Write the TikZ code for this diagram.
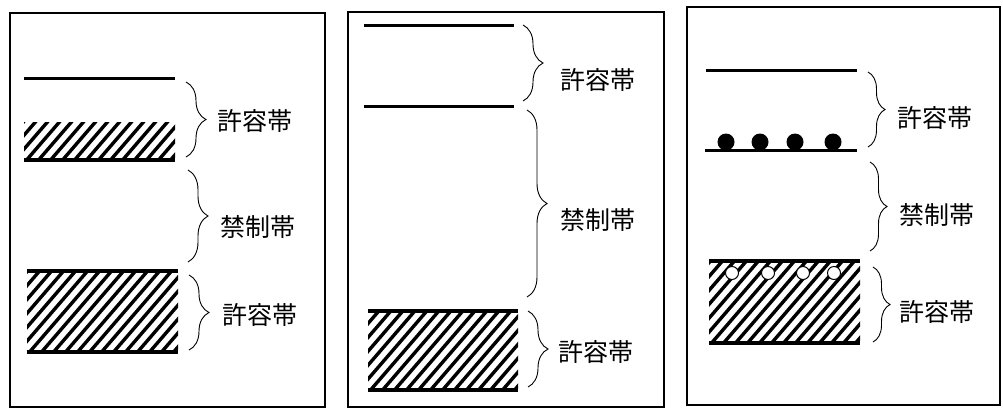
\documentclass[tikz,border=0pt]{standalone}
\usepackage{fontspec}
\newfontfamily\jpfont{Noto Sans CJK JP}
\usetikzlibrary{decorations.pathreplacing}
\newcommand{\hatcharea}[4]{%
  \begin{scope}
    \clip (#1,#2) rectangle (#3,#4);
    \foreach \k in {-10,...,16} \draw[hatchline] ({#1+\k*12},#4+3) -- ++(95,-110);
  \end{scope}}
\begin{document}
\begin{tikzpicture}[x=1pt,y=-1pt,
  frame/.style={draw=black,line width=1.5pt},
  level/.style={line width=3pt},
  edge/.style={line width=3.6pt},
  hatchline/.style={line width=3.4pt},
  bracket/.style={decorate,decoration={brace,amplitude=#1,aspect=0.5},line width=0.9pt},
  bracket/.default=20pt,
  lab/.style={anchor=west,inner sep=0pt,font=\jpfont\fontsize{25}{28}\selectfont},
  hole/.style={circle,draw=black,fill=white,line width=1pt,minimum size=13pt,inner sep=0pt},
  dot/.style={circle,fill=black,minimum size=17pt,inner sep=0pt}]
\useasboundingbox (0,0) rectangle (1003,410);
\fill[white] (0,0) rectangle (1003,410);

% ---------- panel 1 ----------
\draw[frame] (10,13) rectangle (325,407);
\draw[level] (24,78) -- (175,78);
\hatcharea{24}{122}{175}{160}
\draw[edge] (24,160) -- (175,160);
\hatcharea{27}{271}{178}{352}
\draw[edge] (27,271) -- (178,271);
\draw[edge] (27,352) -- (178,352);
\coordinate (a1) at (186,82);  \coordinate (a2) at (186,157);
\coordinate (b1) at (188,170); \coordinate (b2) at (188,262);
\coordinate (c1) at (189,275); \coordinate (c2) at (189,350);
\draw[bracket] (a1) -- (a2);
\draw[bracket] (b1) -- (b2);
\draw[bracket] (c1) -- (c2);
\node[lab] (la) at (217,121) {許容帯};
\node[lab] (lb) at (220,227) {禁制帯};
\node[lab] (lc) at (222,315) {許容帯};

% ---------- panel 2 ----------
\draw[frame] (348,12) rectangle (664,407);
\draw[level] (364,25) -- (514,25);
\draw[level] (364,106) -- (514,106);
\hatcharea{368}{311}{518}{390}
\draw[edge] (368,311) -- (518,311);
\draw[edge] (368,390) -- (518,390);
\coordinate (d1) at (523,25);  \coordinate (d2) at (523,101);
\coordinate (e1) at (527,110); \coordinate (e2) at (527,297);
\coordinate (f1) at (528,311); \coordinate (f2) at (528,387);
\draw[bracket] (d1) -- (d2);
\draw[bracket] (e1) -- (e2);
\draw[bracket] (f1) -- (f2);
\node[lab] (ld) at (560,80) {許容帯};
\node[lab] (le) at (560,220) {禁制帯};
\node[lab] (lf) at (558,352) {許容帯};

% ---------- panel 3 ----------
\draw[frame] (687,7) rectangle (1000,405);
\draw[level] (706,70) -- (857,70);
\draw[level] (705,150) -- (857,150);
\node[dot] (p1) at (726,142) {};
\node[dot] (p2) at (760,142) {};
\node[dot] (p3) at (795,142) {};
\node[dot] (p4) at (833,142) {};
\hatcharea{709}{261}{860}{343}
\draw[edge] (709,261) -- (860,261);
\draw[edge] (709,343) -- (860,343);
\node[hole] (h1) at (732,273) {};
\node[hole] (h2) at (768,273) {};
\node[hole] (h3) at (803,273) {};
\node[hole] (h4) at (834,273) {};
\coordinate (g1) at (868,72);  \coordinate (g2) at (868,147);
\coordinate (h1b) at (870,162); \coordinate (h2b) at (870,251);
\coordinate (i1) at (873,267); \coordinate (i2) at (873,342);
\draw[bracket=17pt] (g1) -- (g2);
\draw[bracket=17pt] (h1b) -- (h2b);
\draw[bracket=17pt] (i1) -- (i2);
\node[lab] (lg) at (897,118) {許容帯};
\node[lab] (lh) at (899,215) {禁制帯};
\node[lab] (li) at (899,312) {許容帯};
\end{tikzpicture}
\end{document}
